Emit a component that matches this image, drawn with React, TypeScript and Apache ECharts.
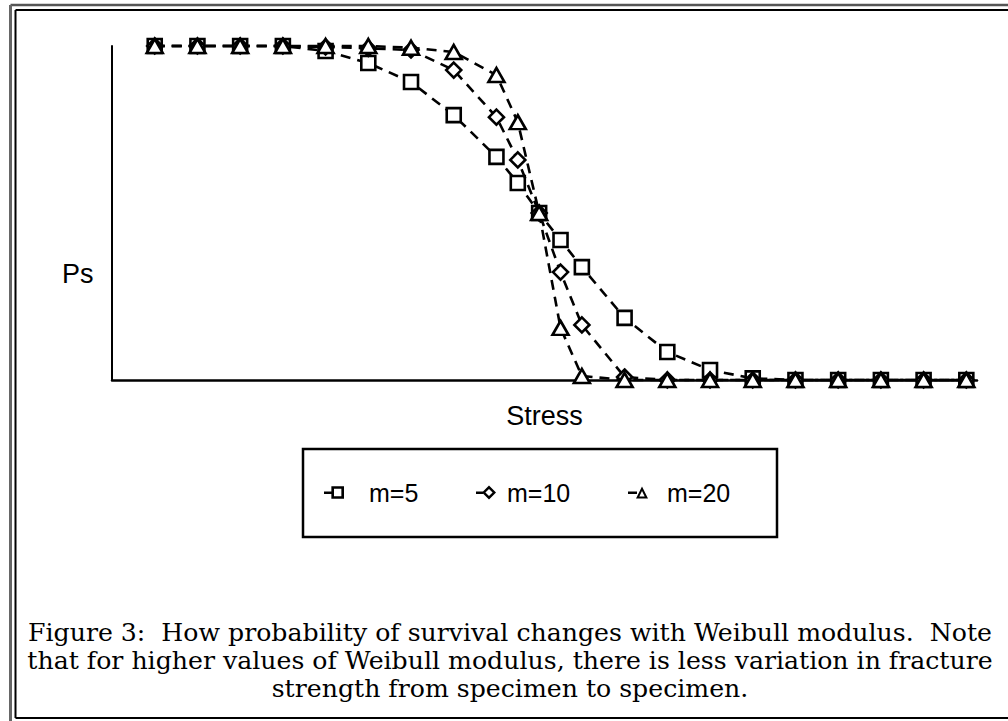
import React, { useEffect, useRef } from "react";
import * as echarts from "echarts";

const stress = [1, 2, 3, 4, 5, 6, 7, 8, 9, 9.5, 10, 10.5, 11, 12, 13, 14, 15, 16, 17, 18, 19, 20];
const psM5 = [1, 1, 1, 1, 0.985, 0.949, 0.892, 0.793, 0.668, 0.59, 0.5, 0.419, 0.338, 0.186, 0.084, 0.03, 0.005, 0, 0, 0, 0, 0];
const psM10 = [1, 1, 1, 1, 0.997, 0.993, 0.988, 0.928, 0.787, 0.659, 0.5, 0.323, 0.165, 0.009, 0, 0, 0, 0, 0, 0, 0, 0];
const psM20 = [1, 1, 1, 1, 1, 1, 0.995, 0.982, 0.913, 0.772, 0.5, 0.156, 0.012, 0, 0, 0, 0, 0, 0, 0, 0, 0];
const seriesNames = ["m=5", "m=10", "m=20"];
const xAxisName = "Stress";
const yAxisName = "Ps";
const captionLines = [
  "Figure 3:  How probability of survival changes with Weibull modulus.  Note",
  "that for higher values of Weibull modulus, there is less variation in fracture",
  "strength from specimen to specimen.",
];

const iconSquare = "path://M0,5H7V7.5H0Z M7,0H19V12H7Z M9.5,2.5V9.5H16.5V2.5Z";
const iconDiamond = "path://M0,6H7V8.5H0Z M6,7L13,0L20,7L13,14Z M9.4,7L13,10.6L16.6,7L13,3.4Z";
const iconTriangle = "path://M0,6H9V8.5H0Z M8,13L14,1L20,13Z M11.3,11L16.7,11L14,5.6Z";

export default function App() {
  const ref = useRef<HTMLDivElement>(null);
  useEffect(() => {
    if (!ref.current) return;
    const chart = echarts.init(ref.current, null, { renderer: "svg" });
    const toPairs = (ys: number[]) => stress.map((x, i) => [x, ys[i]]);
    const lineStyle = { color: "#000", width: 2.6, type: [10, 7] as any };
    const itemStyle = { color: "#fff", borderColor: "#000", borderWidth: 2.6 };
    const sans = "'Liberation Sans', Arial, Helvetica, sans-serif";
    const serif = "'DejaVu Serif', 'Liberation Serif', serif";
    const legendCommon = (name: string, left: number, icon: string, pad: number) => ({
      data: [{ name, icon }],
      left,
      top: 480,
      padding: 0,
      itemWidth: 20,
      itemHeight: 14,
      itemStyle: { color: "#000", borderWidth: 0 },
      selectedMode: false,
      textStyle: { fontSize: 25, fontFamily: sans, color: "#000", padding: [0, 0, 0, pad] },
    });
    chart.setOption({
      animation: false,
      backgroundColor: "#fff",
      grid: { left: 112, top: 46, width: 865, height: 334, containLabel: false },
      xAxis: {
        type: "value",
        min: 0,
        max: 20.25,
        name: xAxisName,
        nameLocation: "middle",
        nameGap: 22,
        nameTextStyle: { fontSize: 27, fontFamily: sans, color: "#000", verticalAlign: "top" },
        axisLine: { show: true, lineStyle: { color: "#000", width: 2.5 } },
        axisTick: { show: false },
        axisLabel: { show: false },
        splitLine: { show: false },
      },
      yAxis: {
        type: "value",
        min: 0,
        max: 1,
        axisLine: { show: true, lineStyle: { color: "#000", width: 2 } },
        axisTick: { show: false },
        axisLabel: { show: false },
        splitLine: { show: false },
      },
      legend: [
        legendCommon(seriesNames[0], 324, iconSquare, 20),
        legendCommon(seriesNames[1], 476, iconDiamond, 6),
        legendCommon(seriesNames[2], 628, iconTriangle, 14),
      ],
      series: [
        {
          name: seriesNames[0],
          type: "line",
          data: toPairs(psM5),
          symbol: "rect",
          symbolSize: 14,
          lineStyle,
          itemStyle,
          clip: false,
          z: 2,
        },
        {
          name: seriesNames[1],
          type: "line",
          data: toPairs(psM10),
          symbol: "diamond",
          symbolSize: 15,
          lineStyle,
          itemStyle,
          clip: false,
          z: 3,
        },
        {
          name: seriesNames[2],
          type: "line",
          data: toPairs(psM20),
          symbol: "triangle",
          symbolSize: [16, 14],
          lineStyle,
          itemStyle,
          clip: false,
          z: 4,
        },
      ],
      graphic: [
        { type: "line", shape: { x1: 10.5, y1: 5, x2: 1008, y2: 5 }, style: { stroke: "#555", lineWidth: 2.5 } },
        { type: "line", shape: { x1: 10.5, y1: 5, x2: 10.5, y2: 721 }, style: { stroke: "#666", lineWidth: 3 } },
        { type: "line", shape: { x1: 15.5, y1: 10, x2: 1008, y2: 10 }, style: { stroke: "#000", lineWidth: 2 } },
        { type: "line", shape: { x1: 15.5, y1: 10, x2: 15.5, y2: 718 }, style: { stroke: "#000", lineWidth: 2 } },
        { type: "line", shape: { x1: 15.5, y1: 718, x2: 1008, y2: 718 }, style: { stroke: "#000", lineWidth: 2 } },
        {
          type: "rect",
          shape: { x: 303, y: 449, width: 474, height: 88 },
          style: { fill: "none", stroke: "#000", lineWidth: 2.5 },
          z: 0,
        },
        {
          type: "text",
          x: 62,
          y: 260,
          style: { text: yAxisName, fontSize: 27, fontFamily: sans, fill: "#000" },
        },
        ...captionLines.map((t, i) => ({
          type: "text",
          x: 510,
          y: 633 + i * 28,
          scaleX: 1.05,
          style: {
            text: t,
            fontSize: 24,
            fontFamily: serif,
            fill: "#000",
            align: "center",
            verticalAlign: "middle",
          },
        })),
      ],
    });
    return () => chart.dispose();
  }, []);
  return (
    <div
      ref={ref}
      style={{ position: "absolute", left: 0, top: 0, width: 1008, height: 721, background: "#fff" }}
    />
  );
}
